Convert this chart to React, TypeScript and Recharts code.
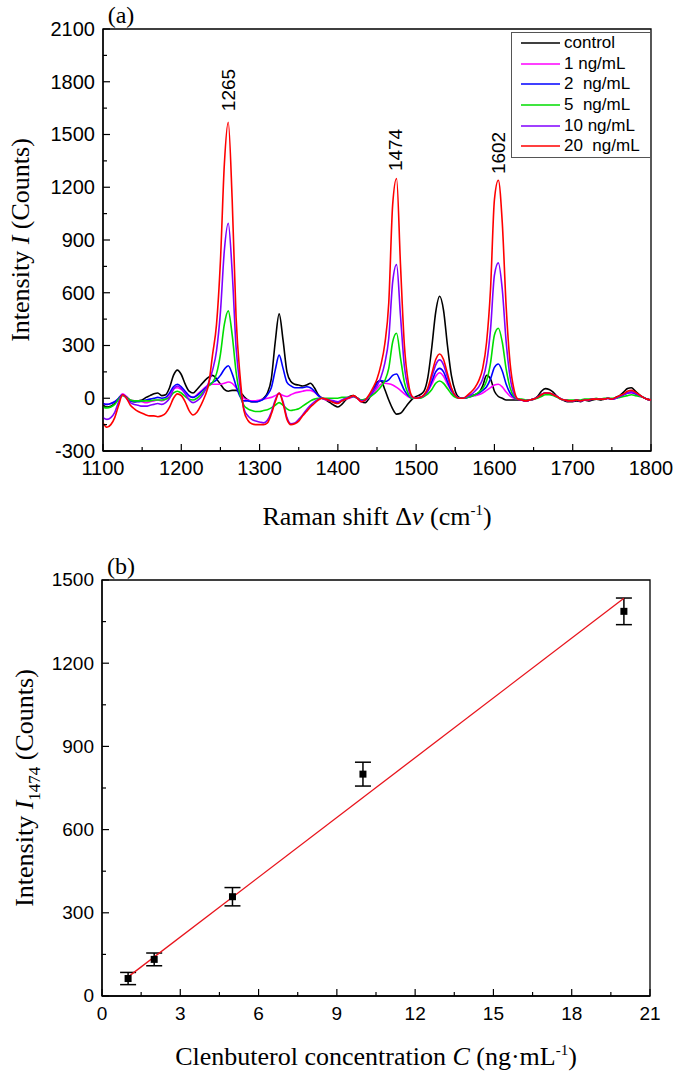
import React from "react";
import {
  ErrorBar,
  Legend,
  Line,
  LineChart,
  ReferenceArea,
  ReferenceDot,
  Scatter,
  ScatterChart,
  XAxis,
  YAxis,
} from "recharts";

// ---------- panel (a): SERS spectra ----------
const ramanShift = [
  1100, 1105, 1110, 1115, 1120, 1125, 1130, 1135, 1140, 1145,
  1150, 1155, 1160, 1165, 1170, 1175, 1180, 1185, 1190, 1195,
  1200, 1205, 1210, 1215, 1220, 1225, 1230, 1235, 1240, 1245,
  1250, 1255, 1260, 1265, 1270, 1275, 1280, 1285, 1290, 1295,
  1300, 1305, 1310, 1315, 1320, 1325, 1330, 1335, 1340, 1345,
  1350, 1355, 1360, 1365, 1370, 1375, 1380, 1385, 1390, 1395,
  1400, 1405, 1410, 1415, 1420, 1425, 1430, 1435, 1440, 1445,
  1450, 1455, 1460, 1465, 1470, 1475, 1480, 1485, 1490, 1495,
  1500, 1505, 1510, 1515, 1520, 1525, 1530, 1535, 1540, 1545,
  1550, 1555, 1560, 1565, 1570, 1575, 1580, 1585, 1590, 1595,
  1600, 1605, 1610, 1615, 1620, 1625, 1630, 1635, 1640, 1645,
  1650, 1655, 1660, 1665, 1670, 1675, 1680, 1685, 1690, 1695,
  1700, 1705, 1710, 1715, 1720, 1725, 1730, 1735, 1740, 1745,
  1750, 1755, 1760, 1765, 1770, 1775, 1780, 1785, 1790, 1795,
  1800,
];

const control = [
  -40, -50, -45, -30, 0, 20, 5, -15, -20, -15,
  -10, 5, 15, 25, 30, 15, 20, 60, 130, 160,
  135, 80, 40, 30, 50, 75, 100, 120, 130, 110,
  80, 50, 40, 45, 45, 35, 10, -10, -20, -20,
  -15, 0, 30, 110, 320, 480, 330, 150, 95, 80,
  75, 70, 75, 85, 60, 20, 0, -10, -25, -40,
  -50, -35, -10, 10, 15, 0, -20, -25, 0, 40,
  90, 100, 50, -10, -60, -90, -85, -60, -30, -5,
  10, 20, 40, 120, 290, 490, 580, 500, 300, 130,
  40, 5, 0, 5, 15, 20, 30, 70, 130, 110,
  40, 10, 0, -10, -10, -10, -10, -10, -15, -10,
  -5, 10, 40, 55, 50, 35, 10, -5, -15, -20,
  -20, -15, -20, -10, -15, -10, -5, -10, -5, 0,
  -5, 5, 15, 35, 55, 60, 40, 20, 5, -5,
  -10,
];

const conc1 = [
  -30, -35, -30, -20, 0, 25, 10, -10, -15, -15,
  -20, -25, -20, -15, -10, -15, -5, 20, 55, 60,
  50, 30, 10, 5, 20, 40, 60, 75, 80, 80,
  80, 85, 92, 85, 60, 30, 0, -10, -15, -15,
  -10, -5, 0, 5, 15, 25, 15, 10, 20, 30,
  35, 40, 45, 45, 35, 15, 0, -10, -15, -20,
  -25, -15, -5, 0, 10, 0, -20, -10, 5, 25,
  55, 80, 85, 82, 75, 62, 45, 25, 8, 0,
  0, 5, 15, 40, 80, 125, 145, 125, 80, 40,
  10, 0, 0, 5, 10, 15, 20, 30, 45, 60,
  75, 80, 65, 35, 12, 0, -5, -10, -15, -10,
  -5, 5, 20, 30, 25, 20, 10, -5, -10, -15,
  -15, -10, -15, -10, -10, -5, -5, -5, -5, 0,
  -5, 0, 10, 20, 30, 30, 25, 15, 5, -5,
  -10,
];

const conc2 = [
  -30, -35, -30, -20, 0, 20, 5, -15, -20, -20,
  -15, -10, -5, 0, 5, 0, 5, 30, 65, 80,
  65, 40, 15, 5, 15, 35, 55, 75, 90, 105,
  130, 165, 185, 140, 70, 10, -15, -15, -20, -20,
  -15, -5, 20, 60, 160, 245, 170, 90, 70, 60,
  60, 60, 65, 60, 40, 15, 0, -5, -15, -20,
  -25, -15, 0, 5, 10, 0, -10, -10, 10, 40,
  85, 100, 95, 105, 130, 138, 95, 45, 15, 0,
  0, 5, 15, 45, 95, 150, 170, 150, 95, 45,
  15, 0, 0, 5, 10, 20, 30, 45, 65, 110,
  175, 195, 155, 80, 30, 5, -5, -10, -15, -10,
  -5, 5, 20, 30, 25, 20, 10, -5, -10, -15,
  -15, -10, -15, -10, -10, -5, -5, -5, -5, 0,
  -5, 0, 10, 20, 30, 35, 25, 15, 5, -5,
  -10,
];

const conc5 = [
  -50, -55, -50, -35, -5, 15, 5, -10, -15, -15,
  -15, -15, -15, -10, -10, -10, -5, 5, 30, 40,
  30, 10, -5, -10, 0, 20, 45, 70, 90, 140,
  250, 420, 497, 360, 150, 20, -40, -60, -70, -75,
  -75, -70, -65, -55, -40, -25, -40, -60, -70, -65,
  -60, -45, -30, -15, -5, 0, 0, 0, 0, 0,
  0, 5, 5, 5, 10, 0, -10, -5, 5, 20,
  40, 65, 100, 170, 320, 370, 230, 90, 25, 0,
  0, 0, 10, 25, 50, 85, 98, 85, 55, 25,
  5, 0, 0, 5, 10, 20, 35, 55, 100, 200,
  360, 398, 320, 165, 60, 10, -5, -5, -10, -10,
  -5, 0, 10, 20, 20, 15, 5, -5, -10, -10,
  -10, -10, -10, -5, -5, -5, 0, -5, 0, 0,
  0, 0, 5, 10, 15, 20, 15, 10, 5, -5,
  -10,
];

const conc10 = [
  -110, -120, -110, -80, -20, 20, 0, -25, -35, -40,
  -45, -45, -40, -35, -30, -35, -25, 0, 50, 70,
  55, 25, -10, -25, -15, 5, 40, 90, 160, 270,
  490, 840, 995, 720, 290, 70, -60, -100, -120, -130,
  -135, -140, -125, -80, -10, 30, -20, -110, -145, -140,
  -120, -95, -65, -40, -20, -5, 0, -5, -10, -15,
  -20, -10, 0, 5, 10, 0, -15, -10, 15, 40,
  70, 120, 200, 340, 660, 760, 470, 180, 55, 5,
  0, 5, 15, 50, 120, 190, 218, 190, 120, 55,
  15, 0, 0, 10, 20, 40, 65, 110, 200, 390,
  700, 770, 620, 320, 120, 25, -5, -10, -15, -10,
  -5, 5, 20, 30, 30, 20, 10, -5, -10, -15,
  -15, -10, -15, -10, -10, -5, -5, -5, -5, 0,
  -5, 0, 10, 20, 30, 35, 30, 15, 5, -5,
  -10,
];

const conc20 = [
  -140, -165, -150, -110, -40, 20, 0, -40, -60, -75,
  -85, -95, -100, -100, -105, -100, -85, -50, 0, 25,
  15, -20, -70, -95, -80, -40, 10, 80, 250, 420,
  780, 1330, 1570, 1130, 460, 130, -70, -125, -145, -150,
  -150, -150, -140, -90, -20, 30, -30, -120, -150, -145,
  -130, -100, -75, -50, -30, -10, 0, -5, -15, -25,
  -30, -15, -5, 5, 15, 0, -20, -10, 20, 60,
  110, 190, 310, 540, 1100, 1250, 760, 300, 90, 10,
  0, 5, 20, 60, 140, 220, 252, 220, 140, 60,
  15, 0, 0, 15, 35, 60, 100, 170, 320, 620,
  1130, 1240, 1000, 520, 200, 50, -5, -10, -15, -10,
  -5, 5, 20, 30, 30, 20, 10, -5, -10, -15,
  -15, -10, -15, -10, -10, -5, -5, -5, -5, 0,
  -5, 5, 15, 25, 40, 45, 35, 20, 5, -5,
  -10,
];

const seriesKeys = ["control", "c1", "c2", "c5", "c10", "c20"];
const seriesNames = ["control", "1 ng/mL", "2  ng/mL", "5  ng/mL", "10 ng/mL", "20  ng/mL"];
const seriesColors = ["#000000", "#ff00ff", "#0000ff", "#00dd00", "#8000ff", "#ff0000"];
const seriesValues = [control, conc1, conc2, conc5, conc10, conc20];

const ramanMajor = [1100, 1200, 1300, 1400, 1500, 1600, 1700, 1800];
const ramanMinor = [1150, 1250, 1350, 1450, 1550, 1650, 1750];
const countMajor = [-300, 0, 300, 600, 900, 1200, 1500, 1800, 2100];
const countMinor = [-150, 150, 450, 750, 1050, 1350, 1650, 1950];

const peakNames = ["1265", "1474", "1602"];
const peakShift = [1260, 1473, 1605];
const peakLabelY = [1753, 1412, 1395];

// ---------- panel (b): calibration ----------
const concentration = [1, 2, 5, 10, 20];
const intensity1474 = [63, 132, 358, 800, 1387];
const intensityErr = [22, 23, 33, 43, 48];
const fitConc = [1, 20];
const fitIntensity = [69, 1434];

const concMajor = [0, 3, 6, 9, 12, 15, 18, 21];
const concMinor = [1.5, 4.5, 7.5, 10.5, 13.5, 16.5, 19.5];
const intMajor = [0, 300, 600, 900, 1200, 1500];
const intMinor = [150, 450, 750, 1050, 1350];

const SANS = '"Liberation Sans", Arial, sans-serif';
const SERIF = '"Liberation Serif", "Times New Roman", serif';

const spectra = ramanShift.map((x, i) => {
  const row: Record<string, number> = { x };
  seriesKeys.forEach((key, s) => {
    row[key] = seriesValues[s][i];
  });
  return row;
});

const points = concentration.map((x, i) => ({ x, y: intensity1474[i], err: intensityErr[i] }));
const fitLine = fitConc.map((x, i) => ({ x, y: fitIntensity[i] }));

const sortTicks = (a: number[], b: number[]) => [...a, ...b].sort((p, q) => p - q);

function xTick(major: number[], fontSize: number) {
  return (props: any) => {
    const { x, y, payload } = props;
    const isMajor = major.includes(payload.value);
    return (
      <g>
        <line x1={x} x2={x} y1={y} y2={y - (isMajor ? 7 : 4)} stroke="#000" strokeWidth={1.2} />
        {isMajor && (
          <text x={x} y={y + 24} textAnchor="middle" fontFamily={SANS} fontSize={fontSize} fill="#000">
            {payload.value}
          </text>
        )}
      </g>
    );
  };
}

function yTick(major: number[], fontSize: number) {
  return (props: any) => {
    const { x, y, payload } = props;
    const isMajor = major.includes(payload.value);
    return (
      <g>
        <line x1={x} x2={x + (isMajor ? 7 : 4)} y1={y} y2={y} stroke="#000" strokeWidth={1.2} />
        {isMajor && (
          <text x={x - 8} y={y + fontSize * 0.34} textAnchor="end" fontFamily={SANS} fontSize={fontSize} fill="#000">
            {payload.value}
          </text>
        )}
      </g>
    );
  };
}

function peakLabel(text: string) {
  return (props: any) => {
    const vb = props.viewBox;
    const cx = vb.x + vb.width / 2;
    const cy = vb.y + vb.height / 2;
    return (
      <text
        x={cx}
        y={cy}
        transform={`rotate(-90 ${cx} ${cy})`}
        textAnchor="middle"
        dominantBaseline="central"
        fontFamily={SANS}
        fontSize={19}
        fill="#000"
      >
        {text}
      </text>
    );
  };
}

function LegendBox() {
  return (
    <div
      style={{
        width: 140,
        height: 126,
        boxSizing: "border-box",
        border: "1px solid #555",
        background: "#fff",
        fontFamily: SANS,
        fontSize: 17,
        color: "#000",
      }}
    >
      {seriesNames.map((name, i) => (
        <div key={name} style={{ display: "flex", alignItems: "center", height: 20.6 }}>
          <svg width={50} height={20} style={{ display: "block" }}>
            <line x1={9} x2={48} y1={10} y2={10} stroke={seriesColors[i]} strokeWidth={1.6} />
          </svg>
          <span style={{ whiteSpace: "pre", marginLeft: 2, lineHeight: "20px" }}>{name}</span>
        </div>
      ))}
    </div>
  );
}

const Square = (props: any) => (
  <rect x={props.cx - 3.5} y={props.cy - 3.5} width={7} height={7} fill="#000" />
);

const titleStyle = (cx: number, cy: number, rotate: boolean): React.CSSProperties => ({
  position: "absolute",
  left: cx,
  top: cy,
  transform: `translate(-50%, -50%)${rotate ? " rotate(-90deg)" : ""}`,
  whiteSpace: "nowrap",
  fontFamily: SERIF,
  fontSize: 26,
  color: "#000",
  lineHeight: 1,
});

const axisLine = { stroke: "#000", strokeWidth: 1.3 };

export default function App() {
  return (
    <div style={{ position: "absolute", left: 0, top: 0, width: 675, height: 1071, background: "#fff" }}>
      <div style={{ position: "absolute", left: 0, top: 0 }}>
        <LineChart width={675} height={540} data={spectra} margin={{ top: 29, right: 24, bottom: 49, left: 43 }}>
          <ReferenceArea x1={1100} x2={1800} y1={-300} y2={2100} fill="none" stroke="#000" strokeWidth={1.3} ifOverflow="visible" />
          <XAxis
            dataKey="x"
            type="number"
            domain={[1100, 1800]}
            ticks={sortTicks(ramanMajor, ramanMinor)}
            interval={0}
            tickSize={0}
            tickMargin={0}
            tickLine={false}
            axisLine={axisLine}
            tick={xTick(ramanMajor, 20)}
            height={40}
            allowDataOverflow
          />
          <YAxis
            type="number"
            domain={[-300, 2100]}
            ticks={sortTicks(countMajor, countMinor)}
            interval={0}
            tickSize={0}
            tickMargin={0}
            tickLine={false}
            axisLine={axisLine}
            tick={yTick(countMajor, 20)}
            width={60}
            allowDataOverflow
          />
          {seriesKeys.map((key, i) => (
            <Line
              key={key}
              dataKey={key}
              name={seriesNames[i]}
              type="monotone"
              stroke={seriesColors[i]}
              strokeWidth={1.6}
              dot={false}
              activeDot={false}
              isAnimationActive={false}
            />
          ))}
          {peakNames.map((name, i) => (
            <ReferenceDot
              key={name}
              x={peakShift[i]}
              y={peakLabelY[i]}
              r={1}
              fill="none"
              stroke="none"
              ifOverflow="visible"
              label={peakLabel(name)}
            />
          ))}
          <Legend
            layout="vertical"
            align="center"
            verticalAlign="middle"
            content={() => <LegendBox />}
            wrapperStyle={{ position: "absolute", top: 32, left: 511, width: 140, height: 126 }}
          />
        </LineChart>
      </div>

      <div style={{ position: "absolute", left: 0, top: 540 }}>
        <ScatterChart width={675} height={531} margin={{ top: 40, right: 25, bottom: 35, left: 42 }}>
          <ReferenceArea x1={0} x2={21} y1={0} y2={1500} fill="none" stroke="#000" strokeWidth={1.3} ifOverflow="visible" />
          <XAxis
            dataKey="x"
            type="number"
            domain={[0, 21]}
            ticks={sortTicks(concMajor, concMinor)}
            interval={0}
            tickSize={0}
            tickMargin={0}
            tickLine={false}
            axisLine={axisLine}
            tick={xTick(concMajor, 19)}
            height={40}
            allowDataOverflow
          />
          <YAxis
            dataKey="y"
            type="number"
            domain={[0, 1500]}
            ticks={sortTicks(intMajor, intMinor)}
            interval={0}
            tickSize={0}
            tickMargin={0}
            tickLine={false}
            axisLine={axisLine}
            tick={yTick(intMajor, 19)}
            width={60}
            allowDataOverflow
          />
          <Scatter
            data={fitLine}
            line={{ stroke: "#e8141c", strokeWidth: 1.3 }}
            shape={() => <g />}
            isAnimationActive={false}
          />
          <Scatter data={points} shape={Square} isAnimationActive={false}>
            <ErrorBar dataKey="err" direction="y" width={8} stroke="#000" strokeWidth={1.5} />
          </Scatter>
        </ScatterChart>
      </div>

      <div style={{ ...titleStyle(121, 15, false), fontSize: 24 }}>(a)</div>
      <div style={{ ...titleStyle(121, 566, false), fontSize: 24 }}>(b)</div>

      <div style={titleStyle(21, 240, true)}>
        Intensity <i>I</i> (Counts)
      </div>
      <div style={titleStyle(377, 517, false)}>
        Raman shift Δ<i>ν</i> (cm<span style={{ fontSize: 15, position: "relative", top: -10 }}>-1</span>)
      </div>

      <div style={titleStyle(25, 788, true)}>
        Intensity <i>I</i>
        <span style={{ fontSize: 17, position: "relative", top: 7 }}>1474</span> (Counts)
      </div>
      <div style={titleStyle(376, 1057, false)}>
        Clenbuterol concentration <i>C</i> (ng·mL
        <span style={{ fontSize: 15, position: "relative", top: -10 }}>-1</span>)
      </div>
    </div>
  );
}
